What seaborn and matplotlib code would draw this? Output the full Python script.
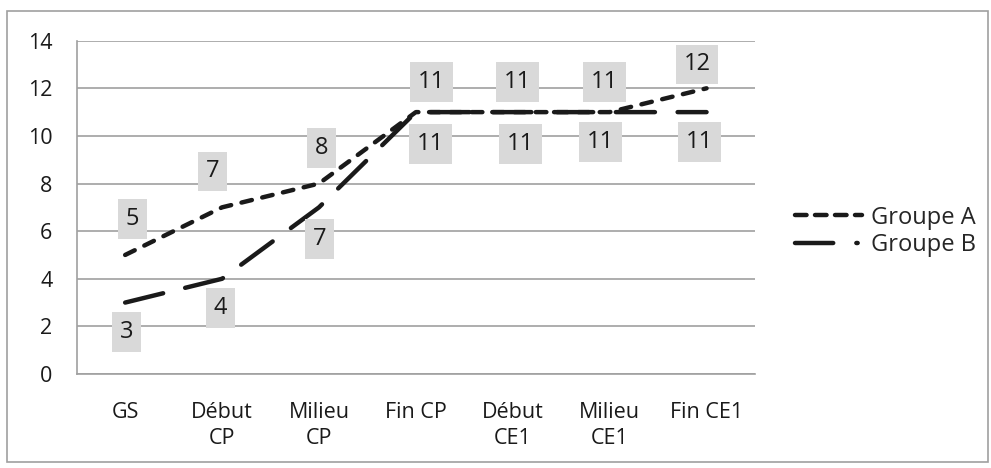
import matplotlib
matplotlib.use("Agg")
import matplotlib.pyplot as plt
import seaborn as sns
import pandas as pd
from matplotlib.patches import Rectangle
from matplotlib.lines import Line2D

categories = ["GS", "Début\nCP", "Milieu\nCP", "Fin CP", "Début\nCE1", "Milieu\nCE1", "Fin CE1"]
groupe_a = [5, 7, 8, 11, 11, 11, 12]
groupe_b = [3, 4, 7, 11, 11, 11, 11]
series_names = ["Groupe A", "Groupe B"]

# label placement (pixels, dx, dy) - layout only
offs_a = [(7.5, 36), (-9.5, 36), (2.5, 35.5), (16, 30), (5, 30), (-5.5, 30), (-9.5, 24)]
offs_b = [(1.5, -29.5), (-1.5, -29), (0.5, -31.5), (15, -32), (7.5, -32), (-9.5, -30), (-7, -30)]

df = pd.DataFrame({
    "x": list(range(len(categories))) * 2,
    "val": groupe_a + groupe_b,
    "Groupe": [series_names[0]] * len(categories) + [series_names[1]] * len(categories),
})

sns.set_theme(style="white")
plt.rcParams["font.family"] = ["Open Sans", "DejaVu Sans"]

fig = plt.figure(figsize=(9.91, 4.68), dpi=100)
# plot area: x 76.7..755 px, y 40.7..374 px
ax = fig.add_axes([76.7 / 991, 1 - 374 / 468, (755 - 76.7) / 991, (374 - 40.7) / 468])

LW = 3.2
line_dash = {"Groupe A": (2.4, 2.4), "Groupe B": (8.8, 5.1)}
leg_dash = {"Groupe A": (2.6, 1.9), "Groupe B": (8.6, 5.2, 0.3, 6)}
sns.lineplot(data=df, x="x", y="val", hue="Groupe", style="Groupe",
             palette={"Groupe A": "#1a1a1a", "Groupe B": "#1a1a1a"},
             dashes=line_dash, linewidth=LW, ax=ax, legend=False)
for ln in ax.lines:
    ln.set_dash_capstyle("round")
    ln.set_solid_capstyle("round")

ax.set_xlim(-0.5, len(categories) - 0.5)
ax.set_ylim(0, 14)
ax.set_yticks(range(0, 15, 2))
ax.set_xticks(range(len(categories)))
ax.set_xticklabels(categories, fontsize=15.5, color="#1a1a1a", linespacing=1.3)
ax.set_xticks([i - 0.5 for i in range(len(categories) + 1)], minor=True)
ax.tick_params(axis="x", which="major", length=0, pad=20)
ax.tick_params(axis="x", which="minor", length=6, color="#a0a0a0", width=1.2, direction="out")
ax.tick_params(axis="y", length=5, color="#a0a0a0", width=1.2, direction="out", labelsize=15.5,
               labelcolor="#1a1a1a", pad=12.5)
ax.set_xlabel("")
ax.set_ylabel("")
ax.grid(axis="y", color="#a0a0a0", linewidth=1.2)
ax.set_axisbelow(True)
for s in ["top", "right"]:
    ax.spines[s].set_visible(False)
for s in ["left", "bottom"]:
    ax.spines[s].set_color("#a0a0a0")
    ax.spines[s].set_linewidth(1.2)

px = 72 / 100
box = dict(boxstyle="square,pad=0.33", facecolor="#d9d9d9", edgecolor="none")
for vals, offs in ((groupe_a, offs_a), (groupe_b, offs_b)):
    for i, v in enumerate(vals):
        dx, dy = offs[i]
        ax.annotate(str(v), (i, v), xytext=(dx * px, dy * px), textcoords="offset points",
                    ha="center", va="center", fontsize=17, color="#1a1a1a", bbox=box)

handles = [Line2D([], [], color="#1a1a1a", linewidth=LW, dashes=leg_dash[n],
                  dash_capstyle="round") for n in series_names]
fig.legend(handles, series_names, loc="center left", bbox_to_anchor=(795 / 991, 1 - 231.5 / 468),
           frameon=False, fontsize=17, handlelength=2.85, labelspacing=0.15,
           handletextpad=0.38, borderpad=0, borderaxespad=0)

fig.patches.append(Rectangle((7 / 991, 6 / 468), 981 / 991, 451 / 468, transform=fig.transFigure,
                             fill=False, edgecolor="#a0a0a0", linewidth=1.2))

fig.savefig("out.png", dpi=100)
